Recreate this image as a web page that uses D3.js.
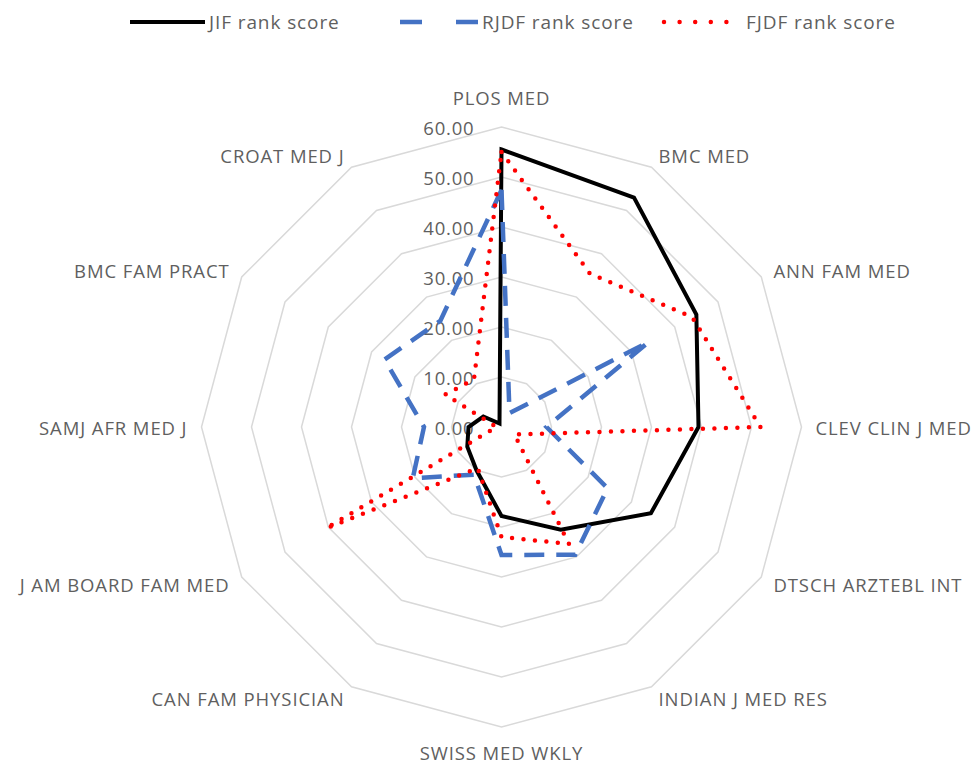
<!DOCTYPE html>
<html>
<head>
<meta charset="utf-8">
<script src="https://cdn.jsdelivr.net/npm/d3@7"></script>
<style>
  body { margin: 0; background: #fff; }
  svg text { font-family: "Open Sans", sans-serif; fill: #5f5f5f; }
</style>
</head>
<body>
<script>
// journals, clockwise from the top
var categories = ["PLOS MED", "BMC MED", "ANN FAM MED", "CLEV CLIN J MED", "DTSCH ARZTEBL INT",
    "INDIAN J MED RES", "SWISS MED WKLY", "CAN FAM PHYSICIAN", "J AM BOARD FAM MED",
    "SAMJ AFR MED J", "BMC FAM PRACT", "CROAT MED J"];

var jifScore  = [55.5, 53.0, 45.0, 39.4, 34.5, 23.7, 17.8, 10.0, 7.9, 6.6, 4.2, 0.8];
var rjdfScore = [47.4, 3.2, 34.0, 9.0, 24.5, 29.5, 25.6, 11.0, 20.5, 15.5, 27.0, 24.5];
var fjdfScore = [55.0, 35.4, 44.0, 51.8, 3.0, 27.0, 22.0, 9.5, 40.5, 1.0, 13.0, 11.0];

var seriesNames = ["JIF rank score", "RJDF rank score", "FJDF rank score"];
var ticks = [0, 10, 20, 30, 40, 50, 60];

var w = 975, h = 765;
var cx = 501.5, cy = 427;
var maxR = 300;

var svg = d3.select("body").append("svg")
    .attr("width", w)
    .attr("height", h);

var rScale = d3.scaleLinear().domain([0, 60]).range([0, maxR]);
var angle = d3.scaleLinear().domain([0, categories.length]).range([0, 2 * Math.PI]);

var g = svg.append("g").attr("transform", "translate(" + cx + "," + cy + ")");

// grid rings (no spokes)
var ring = d3.lineRadial()
    .angle(function(d, i) { return angle(i); })
    .radius(function(d) { return rScale(d); })
    .curve(d3.curveLinearClosed);

ticks.filter(function(t) { return t > 0; }).forEach(function(t) {
    g.append("path")
        .attr("d", ring(categories.map(function() { return t; })))
        .attr("fill", "none")
        .attr("stroke", "#d9d9d9")
        .attr("stroke-width", 1.5);
});

// value labels on the top axis
g.selectAll(".tick-label")
    .data(ticks)
    .enter().append("text")
    .attr("class", "tick-label")
    .attr("x", -27)
    .attr("y", function(d) { return -rScale(d); })
    .attr("text-anchor", "end")
    .attr("dominant-baseline", "central")
    .style("font-size", "18.5px")
    .style("letter-spacing", "0.8px")
    .text(function(d) { return d3.format(".2f")(d); });

// category labels
var labelR = 314;
g.selectAll(".cat-label")
    .data(categories)
    .enter().append("text")
    .attr("class", "cat-label")
    .attr("x", function(d, i) { return labelR * Math.sin(angle(i)); })
    .attr("y", function(d, i) {
        var c = Math.cos(angle(i));
        var y = -labelR * c;
        if (c > 0.99) y -= 16;
        if (c < -0.99) y += 11;
        return y;
    })
    .attr("text-anchor", function(d, i) {
        var s = Math.sin(angle(i));
        return s > 0.1 ? "start" : (s < -0.1 ? "end" : "middle");
    })
    .attr("dominant-baseline", "central")
    .style("font-size", "18.5px")
    .style("letter-spacing", "0.9px")
    .text(function(d) { return d; });

// series styles
var styles = [
    { color: "#000000", width: 4, dash: null, cap: "butt" },
    { color: "#4472c4", width: 4.5, dash: "20 12", cap: "butt" },
    { color: "#ff0000", width: 4.5, dash: "0 11.5", cap: "round" }
];
var allSeries = [jifScore, rjdfScore, fjdfScore];

var radarLine = d3.lineRadial()
    .angle(function(d, i) { return angle(i); })
    .radius(function(d) { return rScale(d); })
    .curve(d3.curveLinearClosed);

allSeries.forEach(function(s, k) {
    g.append("path")
        .attr("d", radarLine(s))
        .attr("fill", "none")
        .attr("stroke", styles[k].color)
        .attr("stroke-width", styles[k].width)
        .attr("stroke-dasharray", styles[k].dash)
        .attr("stroke-linecap", styles[k].cap)
        .attr("stroke-linejoin", "miter");
});

// legend
var legendX = [130, 400, 664];
var legendLen = [75, 78, 78];
var legendDash = [null, "22 34", "0 15.6"];
var legend = svg.append("g").attr("transform", "translate(0,22)");
seriesNames.forEach(function(name, k) {
    var item = legend.append("g").attr("transform", "translate(" + legendX[k] + ",0)");
    item.append("line")
        .attr("x1", 0).attr("x2", legendLen[k])
        .attr("y1", 0).attr("y2", 0)
        .attr("stroke", styles[k].color)
        .attr("stroke-width", styles[k].width)
        .attr("stroke-dasharray", legendDash[k])
        .attr("stroke-linecap", styles[k].cap);
    item.append("text")
        .attr("x", legendLen[k] + 4)
        .attr("y", 0)
        .attr("dominant-baseline", "central")
        .style("font-size", "19px")
        .style("letter-spacing", "0.9px")
        .text(name);
});
</script>
</body>
</html>
